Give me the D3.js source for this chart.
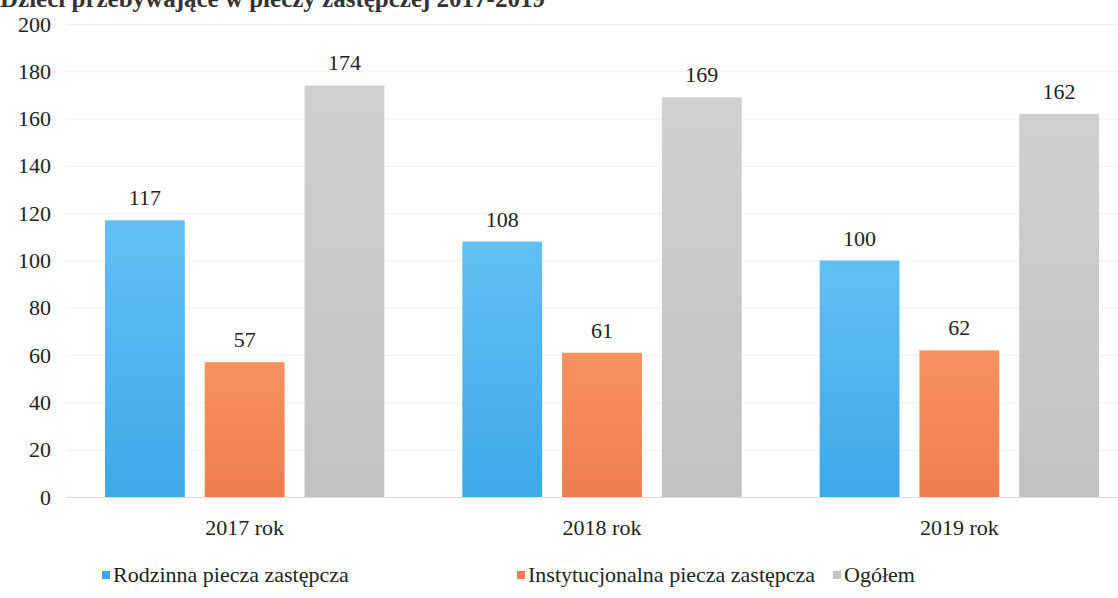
<!DOCTYPE html>
<html>
<head>
<meta charset="utf-8">
<script src="https://cdn.jsdelivr.net/npm/d3@7"></script>
<style>
  body { margin: 0; background: #fff; }
  svg text { font-family: "Liberation Serif", "Times New Roman", Tinos, serif !important; }
</style>
</head>
<body>
<div id="chart"></div>
<script>
/* CONSTANTS AND GLOBALS */
const width = 1118,
  height = 598,
  margin = { top: 24, bottom: 101, left: 66, right: -20 };

const FONT = '"Liberation Serif", "Times New Roman", serif';
const title = "Dzieci przebywające w pieczy zastępczej 2017-2019";

// data
const years = ["2017 rok", "2018 rok", "2019 rok"];
const seriesNames = ["Rodzinna piecza zastępcza", "Instytucjonalna piecza zastępcza", "Ogółem"];
const rodzinna = [117, 108, 100];
const instytucjonalna = [57, 61, 62];
const ogolem = [174, 169, 162];
const yTicks = [0, 20, 40, 60, 80, 100, 120, 140, 160, 180, 200];

const colors = [
  ["#62c0f4", "#3ea8e8"],
  ["#f7915f", "#ef7d4e"],
  ["#d0d0d0", "#c2c2c2"]
];

const values = [rodzinna, instytucjonalna, ogolem];
const rows = years.map((y, i) => ({
  year: y,
  vals: seriesNames.map((s, j) => ({ key: s, idx: j, value: values[j][i] }))
}));

const svg = d3.select("#chart").append("svg")
  .attr("width", width)
  .attr("height", height)
  .attr("font-family", FONT);

const defs = svg.append("defs");
colors.forEach((c, i) => {
  const g = defs.append("linearGradient")
    .attr("id", "grad" + i)
    .attr("x1", 0).attr("y1", 0).attr("x2", 0).attr("y2", 1);
  g.append("stop").attr("offset", "0%").attr("stop-color", c[0]);
  g.append("stop").attr("offset", "100%").attr("stop-color", c[1]);
});

/* SCALES */
const y = d3.scaleLinear()
  .domain([0, 200])
  .range([height - margin.bottom, margin.top]);

const x0 = d3.scaleBand()
  .domain(years)
  .range([margin.left, width - margin.right])
  .paddingInner(0)
  .paddingOuter(0);

const groupPad = 39;
const x1 = d3.scaleBand()
  .domain(seriesNames)
  .range([groupPad, x0.bandwidth() - groupPad])
  .paddingInner(0.2);

/* GRIDLINES */
svg.append("g")
  .selectAll("line")
  .data(yTicks)
  .join("line")
  .attr("x1", margin.left)
  .attr("x2", width)
  .attr("y1", d => y(d) + 0.5)
  .attr("y2", d => y(d) + 0.5)
  .attr("stroke", d => d === 0 ? "#dcdcdc" : "#f1f1f1")
  .attr("stroke-width", 1);

/* Y AXIS */
const yAxis = d3.axisLeft(y).tickValues(yTicks).tickSize(0).tickPadding(0);
svg.append("g")
  .attr("transform", `translate(51,0)`)
  .call(yAxis)
  .attr("font-family", FONT)
  .call(g => g.select(".domain").remove())
  .selectAll("text")
  .attr("font-size", 22)
  .attr("fill", "#222");

/* BARS */
const groups = svg.append("g")
  .selectAll("g")
  .data(rows)
  .join("g")
  .attr("transform", d => `translate(${x0(d.year)},0)`);

groups.selectAll("rect")
  .data(d => d.vals)
  .join("rect")
  .attr("x", d => x1(d.key))
  .attr("y", d => y(d.value))
  .attr("width", x1.bandwidth())
  .attr("height", d => y(0) - y(d.value))
  .attr("fill", d => `url(#grad${d.idx})`);

groups.selectAll("text.val")
  .data(d => d.vals)
  .join("text")
  .attr("class", "val")
  .attr("x", d => x1(d.key) + x1.bandwidth() / 2)
  .attr("y", d => y(d.value) - 15)
  .attr("text-anchor", "middle")
  .attr("font-size", 22)
  .attr("fill", "#222")
  .text(d => d.value);

/* X AXIS LABELS */
svg.append("g")
  .selectAll("text")
  .data(years)
  .join("text")
  .attr("x", d => x0(d) + x0.bandwidth() / 2)
  .attr("y", 535)
  .attr("text-anchor", "middle")
  .attr("font-size", 22)
  .attr("fill", "#222")
  .text(d => d);

/* TITLE */
svg.append("text")
  .attr("x", 0)
  .attr("y", 7)
  .attr("font-size", 25)
  .attr("font-weight", "bold")
  .attr("fill", "#333")
  .text(title);

/* LEGEND */
const legendX = [102, 517, 833];
const legend = svg.append("g")
  .selectAll("g")
  .data(seriesNames)
  .join("g")
  .attr("transform", (d, i) => `translate(${legendX[i]},575)`);

legend.append("rect")
  .attr("x", 0)
  .attr("y", -4)
  .attr("width", 8)
  .attr("height", 8)
  .attr("fill", (d, i) => colors[i][1]);

legend.append("text")
  .attr("x", 11)
  .attr("y", 7)
  .attr("font-size", 22)
  .attr("fill", "#222")
  .text(d => d);
</script>
</body>
</html>
